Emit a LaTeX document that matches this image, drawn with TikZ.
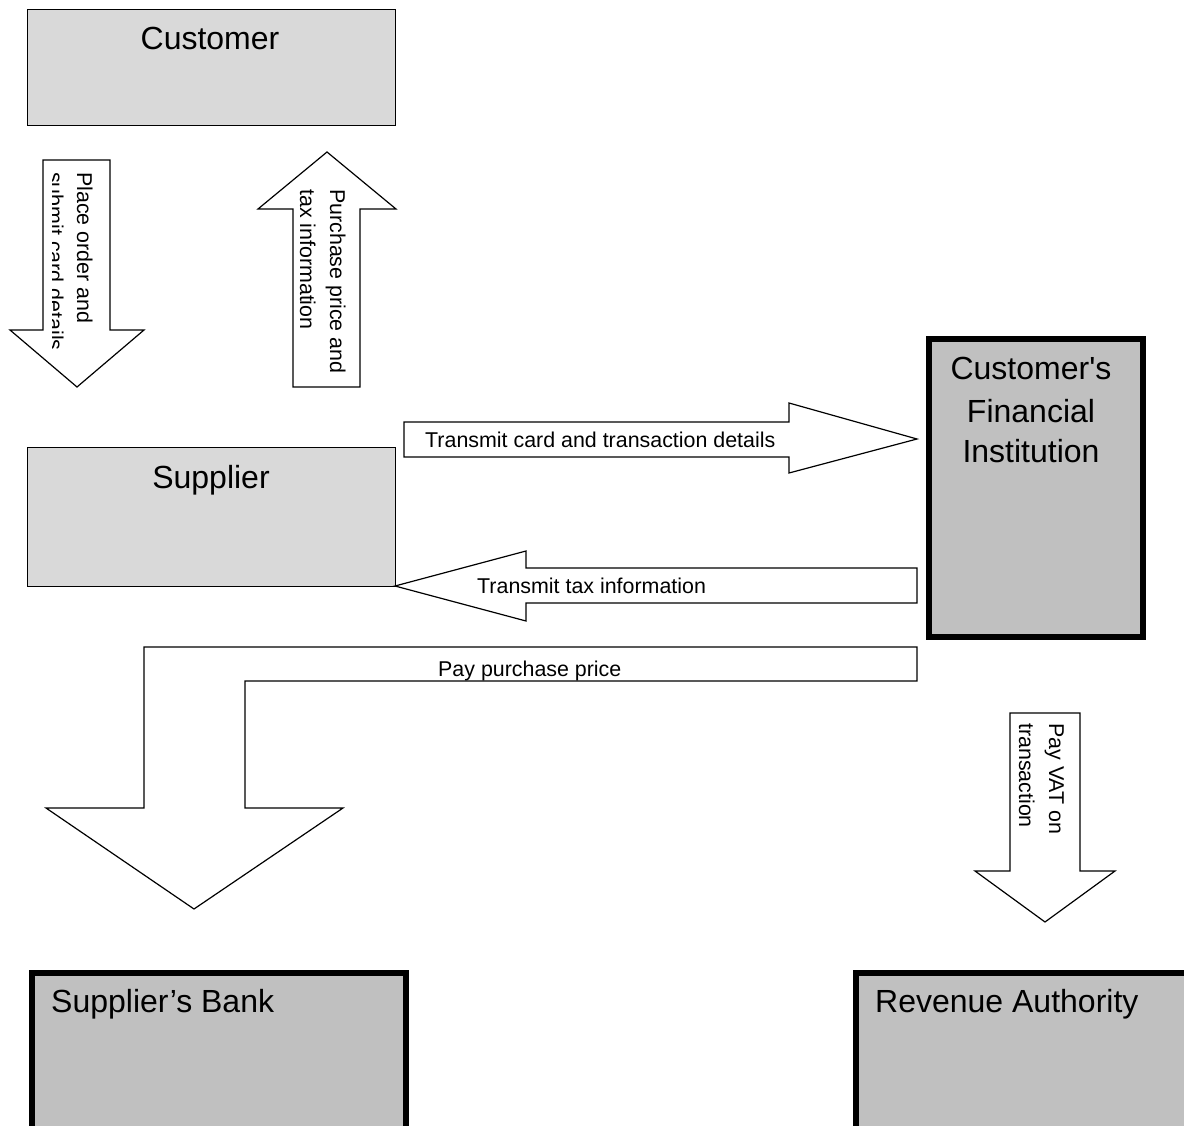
\documentclass[tikz,border=0pt]{standalone}
\usepackage{fontspec}
\setmainfont{Liberation Sans}
\definecolor{boxlight}{HTML}{D9D9D9}
\definecolor{boxdark}{HTML}{C0C0C0}
\tikzset{%
  lightbox/.style={rectangle, draw=black, line width=1pt, fill=boxlight, anchor=north west, inner sep=0pt},
  darkbox/.style={rectangle, draw=black, line width=6pt, fill=boxdark, anchor=north west, inner sep=0pt},
  boxlabel/.style={inner sep=0pt, font=\fontsize{32}{42}\selectfont},
  arrowlabel/.style={inner sep=0pt, font=\fontsize{21.4}{28}\selectfont},
  blockarrow/.style={draw=black, line width=1.2pt, fill=white, line join=miter}
}

\begin{document}
\begin{tikzpicture}[x=1pt, y=-1pt]
\useasboundingbox (0,0) rectangle (1184,1126);
\clip (0,0) rectangle (1184,1126);
\fill[white] (0,0) rectangle (1184,1126);

% boxes
\node[lightbox, minimum width=368pt, minimum height=116pt] (C) at (27,9) {};
\node[lightbox, minimum width=368pt, minimum height=139pt] (S) at (27,447) {};
\node[darkbox, minimum width=214pt, minimum height=298pt] (F) at (926,336) {};
\node[darkbox, minimum width=374pt, minimum height=200pt] (B) at (29,970) {};
\node[darkbox, minimum width=400pt, minimum height=200pt] (R) at (853,970) {};

\node[boxlabel, anchor=base] (Ctext) at (210,50) {Customer};
\node[boxlabel, anchor=base] (Stext) at (211,488) {Supplier};
\foreach \t/\y in {Customer\textquotesingle s/379, Financial/422, Institution/462}{
  \node[boxlabel, anchor=base] (F\y) at (1031,\y) {\t};
}
\node[boxlabel, anchor=base west] (Btext) at (51,1012) {Supplier’s Bank};
\node[boxlabel, anchor=base west] (Rtext) at (875,1012) {Revenue Authority};

% customer <-> supplier
\draw[blockarrow] (43,160) -- (110,160) -- (110,330) -- (144,330) -- (77,387)
  -- (10,330) -- (43,330) -- cycle;
\draw[blockarrow] (293,387) -- (293,209) -- (258,209) -- (327,152) -- (396,209)
  -- (360,209) -- (360,387) -- cycle;

\begin{scope}
  \clip (52,150) rectangle (111,400);
  \foreach \t/\x [count=\n] in {Place order and/77, submit card details/48}{
    \node[arrowlabel, rotate=-90, anchor=base west] (order\n) at (\x,172) {\t};
  }
\end{scope}
\foreach \t/\x [count=\n] in {Purchase price and/330, tax information/300}{
  \node[arrowlabel, rotate=-90, anchor=base west] (price\n) at (\x,189) {\t};
}

% supplier <-> financial institution
\draw[blockarrow] (404,422) -- (789,422) -- (789,403) -- (917,439) -- (789,473)
  -- (789,457) -- (404,457) -- cycle;
\draw[blockarrow] (917,568) -- (526,568) -- (526,551) -- (395,586) -- (526,621)
  -- (526,603) -- (917,603) -- cycle;
\node[arrowlabel, anchor=base west] (cardtext) at (425,447) {Transmit card and transaction details};
\node[arrowlabel, anchor=base west] (taxtext) at (477,593) {Transmit tax information};

% payments
\draw[blockarrow] (917,647) -- (144,647) -- (144,808) -- (46,808) -- (194,909)
  -- (343,808) -- (245,808) -- (245,681) -- (917,681) -- cycle;
\node[arrowlabel, anchor=base west] (paytext) at (438,676) {Pay purchase price};

\draw[blockarrow] (1010,713) -- (1080,713) -- (1080,871) -- (1115,871) -- (1045,922)
  -- (975,871) -- (1010,871) -- cycle;
\foreach \t/\x [count=\n] in {Pay VAT on/1049, transaction/1019}{
  \node[arrowlabel, rotate=-90, anchor=base west] (vat\n) at (\x,723) {\t};
}

\end{tikzpicture}
\end{document}
